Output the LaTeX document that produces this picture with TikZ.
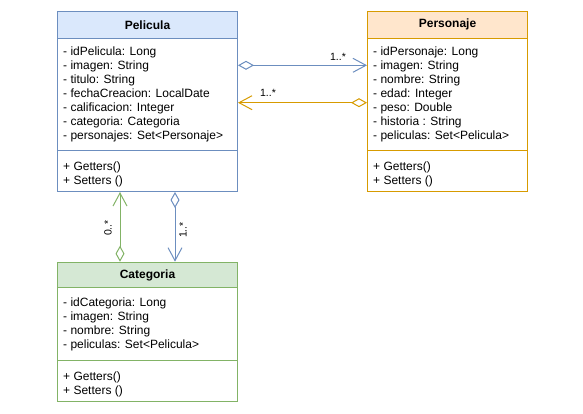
\documentclass[tikz,border=0pt]{standalone}
\usepackage{fontspec}
\setmainfont{Liberation Sans}
\usetikzlibrary{arrows.meta}
\definecolor{bluefill}{HTML}{DAE8FC}
\definecolor{bluestroke}{HTML}{6C8EBF}
\definecolor{orangefill}{HTML}{FFE6CC}
\definecolor{orangestroke}{HTML}{D79B00}
\definecolor{greenfill}{HTML}{D5E8D4}
\definecolor{greenstroke}{HTML}{82B366}
\tikzset{
  classbox/.style={rectangle, draw=#1, line width=1pt, fill=white, anchor=north west, minimum width=180pt, inner sep=0pt},
  classhead/.style={rectangle, draw=#1, line width=1pt, anchor=north west, minimum width=180pt, minimum height=26.7pt, inner sep=0pt, font=\fontsize{12}{14}\selectfont\bfseries},
  members/.style={anchor=north west, align=left, inner sep=0pt, font=\fontsize{12}{14}\selectfont},
  conn/.style={line width=1pt, draw=#1},
  diam/.tip={Diamond[open, length=16pt, width=9pt, fill=white, line width=1pt]},
  barb/.tip={Straight Barb[length=13pt, width=14pt, line width=1pt]},
  mult/.style={font=\fontsize{10.5}{12}\selectfont, inner sep=1pt},
}
\begin{document}
\begin{tikzpicture}[x=1pt, y=-1pt]
\useasboundingbox (0,0) rectangle (583,413);
% Pelicula
\node[classbox=bluestroke, minimum height=180pt] (pel) at (57,11) {};
\node[classhead=bluestroke, fill=bluefill] (pelh) at (57,11) {Pelicula};
\draw[bluestroke, line width=1pt] (57,150.7) -- (237,150.7);
\node[members] (pela) at (63,46.5) {- idPelicula: Long\\- imagen: String\\- titulo: String\\- fechaCreacion: LocalDate\\- calificacion: Integer\\- categoria: Categoria\\- personajes: Set<Personaje>};
\node[members] (pelm) at (63,161.5) {+ Getters()\\+ Setters ()};
% Personaje
\node[classbox=orangestroke, minimum width=160pt, minimum height=180pt] (per) at (367,11) {};
\node[classhead=orangestroke, fill=orangefill, minimum width=160pt] (perh) at (367,11) {Personaje};
\draw[orangestroke, line width=1pt] (367,150.7) -- (527,150.7);
\node[members] (pera) at (373,46.5) {- idPersonaje: Long\\- imagen: String\\- nombre: String\\- edad: Integer\\- peso: Double\\- historia : String\\- peliculas: Set<Pelicula>};
\node[members] (perm) at (373,161.5) {+ Getters()\\+ Setters ()};
% Categoria
\node[classbox=greenstroke, minimum height=139.5pt] (cat) at (57,261.7) {};
\node[classhead=greenstroke, fill=greenfill, minimum height=25.6pt] (cath) at (57,261.7) {Categoria};
\draw[greenstroke, line width=1pt] (57,360) -- (237,360);
\node[members] (cata) at (63,297.2) {- idCategoria: Long\\- imagen: String\\- nombre: String\\- peliculas: Set<Pelicula>};
\node[members] (catm) at (63,371.5) {+ Getters()\\+ Setters ()};
% connectors
\draw[conn=bluestroke, {diam}-{barb}] (pel.east |- 0,65.3) -- (per.west |- 0,65.3);
\node[mult] (l1) at (338,56.5) {1..*};
\draw[conn=orangestroke, {diam}-{barb}] (per.west |- 0,102.7) -- (pel.east |- 0,102.7);
\node[mult] (l2) at (268,93) {1..*};
\draw[conn=greenstroke, {diam}-{barb}] (cat.north -| 120,0) -- (pel.south -| 120,0);
\node[mult, rotate=90] (l3) at (108,228) {0..*};
\draw[conn=bluestroke, {diam}-{barb}] (pel.south -| 175,0) -- (cat.north -| 175,0);
\node[mult, rotate=90] (l4) at (183,230) {1..*};
\end{tikzpicture}
\end{document}
